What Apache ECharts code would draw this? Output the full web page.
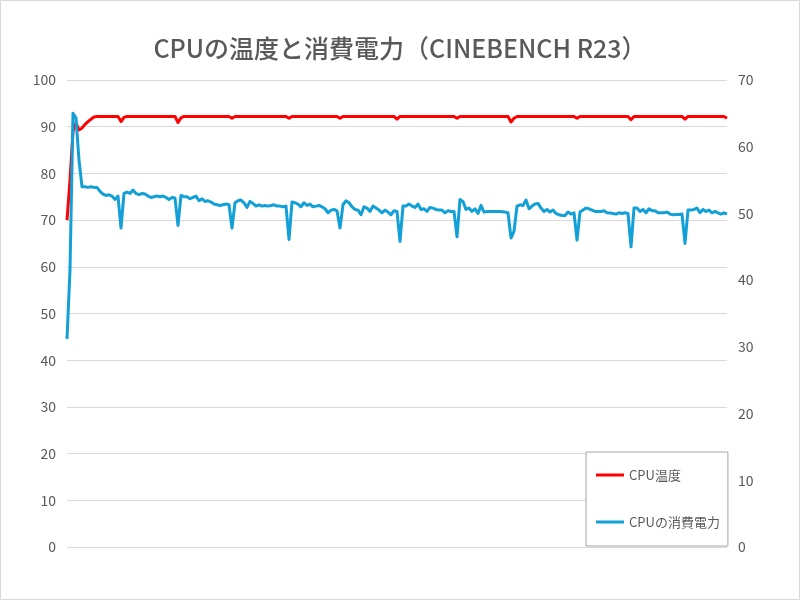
<!DOCTYPE html>
<html>
<head>
<meta charset="utf-8">
<script src="https://cdn.jsdelivr.net/npm/echarts@6/dist/echarts.min.js"></script>
<style>
html,body{margin:0;padding:0;background:#fff;}
#chart{width:800px;height:600px;}
</style>
</head>
<body>
<div id="chart"></div>
<script>
// ---- Data ----
const titleText = 'CPUの温度と消費電力（CINEBENCH R23）';
const seriesNames = ['CPU温度', 'CPUの消費電力'];
const leftTicks = [0, 100, 10];   // min, max, interval (°C)
const rightTicks = [0, 70, 10];   // min, max, interval (W)

// CPU temperature (left axis), one reading per sample
const cpuTemp = [
  70, 78.5, 89, 90.8, 89.3, 89.7, 90.5, 91.1, 91.6, 92.1,
  92.2, 92.2, 92.2, 92.2, 92.2, 92.2, 92.2, 92.2, 91.1, 92.0,
  92.2, 92.2, 92.2, 92.2, 92.2, 92.2, 92.2, 92.2, 92.2, 92.2,
  92.2, 92.2, 92.2, 92.2, 92.2, 92.2, 92.2, 90.9, 91.9, 92.2,
  92.2, 92.2, 92.2, 92.2, 92.2, 92.2, 92.2, 92.2, 92.2, 92.2,
  92.2, 92.2, 92.2, 92.2, 92.2, 91.8, 92.2, 92.2, 92.2, 92.2,
  92.2, 92.2, 92.2, 92.2, 92.2, 92.2, 92.2, 92.2, 92.2, 92.2,
  92.2, 92.2, 92.2, 92.2, 91.8, 92.2, 92.2, 92.2, 92.2, 92.2,
  92.2, 92.2, 92.2, 92.2, 92.2, 92.2, 92.2, 92.2, 92.2, 92.2,
  92.2, 91.8, 92.2, 92.2, 92.2, 92.2, 92.2, 92.2, 92.2, 92.2,
  92.2, 92.2, 92.2, 92.2, 92.2, 92.2, 92.2, 92.2, 92.2, 92.2,
  91.6, 92.2, 92.2, 92.2, 92.2, 92.2, 92.2, 92.2, 92.2, 92.2,
  92.2, 92.2, 92.2, 92.2, 92.2, 92.2, 92.2, 92.2, 92.2, 92.2,
  91.8, 92.2, 92.2, 92.2, 92.2, 92.2, 92.2, 92.2, 92.2, 92.2,
  92.2, 92.2, 92.2, 92.2, 92.2, 92.2, 92.2, 92.2, 91.0, 91.8,
  92.2, 92.2, 92.2, 92.2, 92.2, 92.2, 92.2, 92.2, 92.2, 92.2,
  92.2, 92.2, 92.2, 92.2, 92.2, 92.2, 92.2, 92.2, 92.2, 92.2,
  91.8, 92.2, 92.2, 92.2, 92.2, 92.2, 92.2, 92.2, 92.2, 92.2,
  92.2, 92.2, 92.2, 92.2, 92.2, 92.2, 92.2, 92.2, 91.5, 92.2,
  92.2, 92.2, 92.2, 92.2, 92.2, 92.2, 92.2, 92.2, 92.2, 92.2,
  92.2, 92.2, 92.2, 92.2, 92.2, 92.2, 91.6, 92.2, 92.2, 92.2,
  92.2, 92.2, 92.2, 92.2, 92.2, 92.2, 92.2, 92.2, 92.2, 92.2,
  91.8
];

// CPU package power (right axis, W), one reading per sample
const cpuPower = [
  31.2, 41.5, 65.0, 64.3, 58.0, 54.0, 54.0, 53.9, 54.0, 53.9,
  53.9, 53.3, 52.9, 52.7, 52.8, 52.6, 52.1, 52.6, 47.8, 53.0,
  53.2, 53.0, 53.5, 53.0, 52.8, 53.0, 52.9, 52.6, 52.4, 52.5,
  52.6, 52.5, 52.6, 52.4, 52.1, 52.4, 52.3, 48.2, 52.7, 52.5,
  52.5, 52.2, 52.4, 52.6, 51.9, 52.2, 51.8, 51.9, 51.7, 51.4,
  51.3, 51.2, 51.3, 51.4, 51.3, 47.8, 51.6, 51.9, 52.0, 51.6,
  50.9, 51.8, 51.5, 51.1, 51.3, 51.1, 51.2, 51.1, 51.2, 51.3,
  51.1, 51.1, 51.0, 51.1, 46.1, 51.7, 51.6, 51.4, 51.0, 51.6,
  51.2, 51.4, 51.0, 51.1, 51.2, 51.0, 50.7, 50.1, 50.5, 50.6,
  50.4, 47.8, 51.3, 51.9, 51.6, 51.0, 50.6, 50.5, 49.8, 51.0,
  50.8, 50.3, 51.1, 50.8, 50.5, 50.1, 50.5, 50.2, 49.8, 50.4,
  50.3, 45.8, 51.1, 51.1, 51.4, 51.1, 50.9, 51.4, 50.6, 50.7,
  50.3, 50.9, 50.8, 50.6, 50.5, 50.5, 50.1, 50.4, 50.3, 50.3,
  46.5, 52.1, 51.8, 50.6, 50.8, 50.3, 50.7, 50.0, 51.2, 50.2,
  50.3, 50.3, 50.3, 50.3, 50.3, 50.25, 50.2, 50.1, 46.3, 47.3,
  51.1, 51.3, 51.2, 52.0, 50.7, 51.1, 51.4, 51.5, 50.8, 50.3,
  50.6, 50.2, 50.5, 50.0, 49.8, 49.7, 49.7, 50.2, 49.9, 50.1,
  46.0, 50.2, 50.5, 50.8, 50.7, 50.5, 50.3, 50.3, 50.3, 50.4,
  50.1, 50.05, 50.0, 49.9, 50.1, 50.0, 50.1, 50.0, 45.0, 50.8,
  50.8, 50.3, 50.6, 50.1, 50.7, 50.4, 50.4, 50.1, 50.1, 50.1,
  50.2, 49.9, 49.8, 49.85, 49.85, 49.9, 45.5, 50.5, 50.5, 50.6,
  50.8, 50.1, 50.6, 50.3, 50.5, 50.1, 50.3, 50.1, 49.9, 50.1,
  49.9
];

// sample index categories (not displayed)
const samples = cpuTemp.map((_, i) => String(i + 1));

// ---- Chart ----
const textColor = '#595959';
const font = '"Noto Sans CJK JP", "Noto Sans", sans-serif';
const chart = echarts.init(document.getElementById('chart'), null, {renderer: 'canvas'});
chart.setOption({
  animation: false,
  backgroundColor: '#ffffff',
  textStyle: {fontFamily: font},
  graphic: [{
    type: 'rect',
    shape: {x: 0.5, y: 0.5, width: 799, height: 599},
    style: {fill: 'none', stroke: '#d9d9d9', lineWidth: 1},
    silent: true
  }],
  title: {
    text: titleText,
    left: 'center',
    top: 31,
    textStyle: {color: textColor, fontSize: 25, fontWeight: 500, fontFamily: font}
  },
  legend: {
    orient: 'vertical',
    left: 586,
    top: 452,
    padding: [15, 8, 16, 10],
    itemGap: 31,
    itemWidth: 28,
    itemHeight: 3,
    borderColor: '#a6a6a6',
    borderWidth: 1,
    backgroundColor: '#ffffff',
    textStyle: {color: textColor, fontSize: 13, lineHeight: 16, fontFamily: font},
    data: [
      {name: seriesNames[0], icon: 'rect'},
      {name: seriesNames[1], icon: 'rect'}
    ]
  },
  grid: {left: 67, right: 73, top: 80, bottom: 53, containLabel: false},
  xAxis: {
    type: 'category',
    data: samples,
    boundaryGap: false,
    axisLine: {show: false},
    axisTick: {show: false},
    axisLabel: {show: false},
    splitLine: {show: false}
  },
  yAxis: [
    {
      type: 'value',
      min: leftTicks[0], max: leftTicks[1], interval: leftTicks[2],
      axisLine: {show: false},
      axisTick: {show: false},
      axisLabel: {color: textColor, fontSize: 14, margin: 11, fontFamily: font},
      splitLine: {lineStyle: {color: '#d9d9d9', width: 1}}
    },
    {
      type: 'value',
      min: rightTicks[0], max: rightTicks[1], interval: rightTicks[2],
      position: 'right',
      axisLine: {show: false},
      axisTick: {show: false},
      axisLabel: {color: textColor, fontSize: 14, margin: 11, fontFamily: font},
      splitLine: {show: false}
    }
  ],
  series: [
    {
      name: seriesNames[0],
      type: 'line',
      yAxisIndex: 0,
      data: cpuTemp,
      symbol: 'none',
      lineStyle: {color: '#ff0000', width: 3, join: 'round'},
      itemStyle: {color: '#ff0000'}
    },
    {
      name: seriesNames[1],
      type: 'line',
      yAxisIndex: 1,
      data: cpuPower,
      symbol: 'none',
      lineStyle: {color: '#12a0d7', width: 3, join: 'round'},
      itemStyle: {color: '#12a0d7'}
    }
  ]
});
</script>
</body>
</html>
